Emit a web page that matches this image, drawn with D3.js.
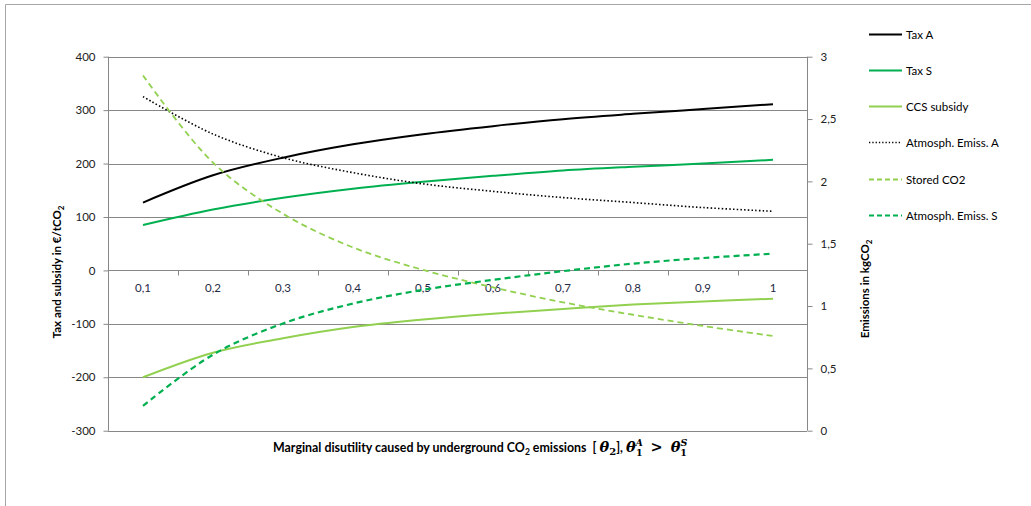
<!DOCTYPE html>
<html><head><meta charset="utf-8">
<script src="https://cdn.jsdelivr.net/npm/d3@7"></script>
<style>
body{margin:0;background:#fff;}
svg{display:block;font-family:Lato,"Open Sans",sans-serif;}
</style></head>
<body><svg id="c" width="1031" height="506"></svg>
<script>
const categories = ["0,1","0,2","0,3","0,4","0,5","0,6","0,7","0,8","0,9","1"];
const taxA = [127,178,211,236,255,270,283,293,302,311];
const taxS = [85,114,136,153,166,177,187,194,200,207];
const ccsSubsidy = [-200,-154,-127,-106,-92,-81,-72,-64,-58,-53];
const atmEmissA = [2.68,2.38,2.19,2.07,1.98,1.92,1.87,1.83,1.79,1.76];
const storedCO2 = [2.85,2.15,1.74,1.47,1.29,1.15,1.03,0.93,0.84,0.76];
const atmEmissS = [0.20,0.61,0.86,1.02,1.13,1.21,1.28,1.34,1.385,1.42];
const leftTicks = [-300,-200,-100,0,100,200,300,400];
const rightTicks = [0,0.5,1,1.5,2,2.5,3];

const series = [
  {name:"Tax A", values:taxA, axis:"L", color:"#000000", dash:null, w:2},
  {name:"Tax S", values:taxS, axis:"L", color:"#00B050", dash:null, w:2},
  {name:"CCS subsidy", values:ccsSubsidy, axis:"L", color:"#92D050", dash:null, w:2},
  {name:"Atmosph. Emiss. A", values:atmEmissA, axis:"R", color:"#000000", dash:"1.5,2.2", w:1.6},
  {name:"Stored CO2", values:storedCO2, axis:"R", color:"#92D050", dash:"6,4", w:1.8},
  {name:"Atmosph. Emiss. S", values:atmEmissS, axis:"R", color:"#00B050", dash:"6,4", w:2.2}
];

const svg = d3.select("#c");
const L = 108, R = 808, T = 56.7, B = 430.7;
const x = d3.scaleBand().domain(categories).range([L, R]);
const xc = c => x(c) + x.bandwidth()/2;
const yL = d3.scaleLinear().domain([-300,400]).range([B,T]);
const yR = d3.scaleLinear().domain([0,3]).range([B,T]);
const gridCol = "#878787";

// outer frame
svg.append("line").attr("x1",5.5).attr("x2",5.5).attr("y1",4.5).attr("y2",506).attr("stroke","#a6a6a6");
svg.append("line").attr("x1",5.5).attr("x2",1031).attr("y1",4.5).attr("y2",4.5).attr("stroke","#a6a6a6");

// grid
svg.append("g").selectAll("line").data(leftTicks).join("line")
  .attr("x1",L).attr("x2",R-1).attr("y1",d=>Math.round(yL(d))+0.5).attr("y2",d=>Math.round(yL(d))+0.5)
  .attr("stroke",gridCol).attr("stroke-width",1);

// left axis
const gl = svg.append("g").attr("transform",`translate(${L+0.5},0)`)
  .call(d3.axisLeft(yL).tickValues(leftTicks).tickSize(5).tickPadding(8).tickFormat(d=>d<0?"-"+Math.abs(d):d));
gl.select(".domain").attr("stroke",gridCol).attr("d",`M-0,${T}V${B}`);
gl.selectAll(".tick line").attr("stroke",gridCol);
gl.selectAll(".tick text").attr("font-size",11.5).attr("fill","#222").attr("font-family","Lato,sans-serif");

// right axis
const gr = svg.append("g").attr("transform",`translate(${R-0.5},0)`)
  .call(d3.axisRight(yR).tickValues(rightTicks).tickSize(5).tickPadding(8).tickFormat(d=>String(d).replace(".",",")));
gr.select(".domain").attr("stroke",gridCol).attr("d",`M0,${T}V${B}`);
gr.selectAll(".tick line").attr("stroke",gridCol);
gr.selectAll(".tick text").attr("font-size",11.5).attr("fill","#222").attr("font-family","Lato,sans-serif");

// x axis at zero
const y0 = Math.round(yL(0))+0.5;
const gx = svg.append("g").attr("transform",`translate(0,${y0})`)
  .call(d3.axisBottom(x).tickSize(0).tickPadding(13));
gx.select(".domain").remove();
gx.selectAll(".tick text").attr("font-size",11.5).attr("fill","#1f2a44").attr("font-family","Lato,sans-serif");
const bounds = categories.slice(1).map(c=>x(c));
svg.append("g").selectAll("line").data(bounds).join("line")
  .attr("x1",d=>Math.round(d)+0.5).attr("x2",d=>Math.round(d)+0.5).attr("y1",y0).attr("y2",y0+5)
  .attr("stroke",gridCol);

// lines
const lineL = d3.line().x((d,i)=>xc(categories[i])).y(d=>yL(d)).curve(d3.curveCatmullRom.alpha(0.5));
const lineR = d3.line().x((d,i)=>xc(categories[i])).y(d=>yR(d)).curve(d3.curveCatmullRom.alpha(0.5));
svg.append("g").selectAll("path").data(series).join("path")
  .attr("d",s=>(s.axis==="L"?lineL:lineR)(s.values))
  .attr("fill","none").attr("stroke",s=>s.color).attr("stroke-width",s=>s.w)
  .attr("stroke-dasharray",s=>s.dash);

// axis titles
svg.append("text").attr("transform","translate(61,272) rotate(-90)").attr("text-anchor","middle")
  .attr("font-size",11.5).attr("font-weight","bold").attr("fill","#000")
  .call(t=>{t.append("tspan").text("Tax and subsidy in €/tCO");
            t.append("tspan").attr("font-size",8).attr("dy",3).text("2");});
svg.append("text").attr("transform","translate(869,289) rotate(-90)").attr("text-anchor","middle")
  .attr("font-size",11.5).attr("font-weight","bold").attr("fill","#000")
  .call(t=>{t.append("tspan").text("Emissions in kgCO");
            t.append("tspan").attr("font-size",8).attr("dy",3).text("2");});

// x title
const mf = "DejaVu Serif";
const xt = svg.append("text").attr("x",273).attr("y",452).attr("font-size",12.4).attr("font-weight","bold").attr("fill","#000");
xt.append("tspan").text("Marginal disutility caused by underground CO");
xt.append("tspan").attr("font-size",8.5).attr("dy",3).text("2");
xt.append("tspan").attr("dy",-3).text(" emissions\u00a0\u00a0[ ");
xt.append("tspan").attr("font-family",mf).attr("font-style","italic").attr("font-size",14.5).text("θ");
xt.append("tspan").attr("font-family",mf).attr("font-size",10).attr("dy",3).text("2");
xt.append("tspan").attr("dy",-3).text("], ");
xt.append("tspan").attr("font-family",mf).attr("font-style","italic").attr("font-size",14.5).text("θ");
xt.append("tspan").attr("font-family",mf).attr("font-style","italic").attr("font-size",9.5).attr("dy",-6).text("A");
xt.append("tspan").attr("font-family",mf).attr("font-size",9.5).attr("dx",-7).attr("dy",10).text("1");
xt.append("tspan").attr("font-family",mf).attr("font-size",14.5).attr("dy",-4).attr("dx",8).text(">");
xt.append("tspan").attr("font-family",mf).attr("font-style","italic").attr("font-size",14.5).attr("dx",8).text("θ");
xt.append("tspan").attr("font-family",mf).attr("font-style","italic").attr("font-size",9.5).attr("dy",-6).text("S");
xt.append("tspan").attr("font-family",mf).attr("font-size",9.5).attr("dx",-7).attr("dy",10).text("1");

// legend
const legY = [34,70,106,142,179,215];
const lg = svg.append("g").selectAll("g").data(series).join("g")
  .attr("transform",(s,i)=>`translate(869,${legY[i]})`);
lg.append("line").attr("x1",0).attr("x2",33).attr("y1",0.5).attr("y2",0.5)
  .attr("stroke",s=>s.color).attr("stroke-width",s=>s.w).attr("stroke-dasharray",s=>s.dash?(s.dash==="6,4"?"5,3":"1.3,2"):null);
lg.append("text").attr("x",37).attr("y",4.5).attr("font-size",11.5).attr("fill","#000").text(s=>s.name);
</script></body></html>
